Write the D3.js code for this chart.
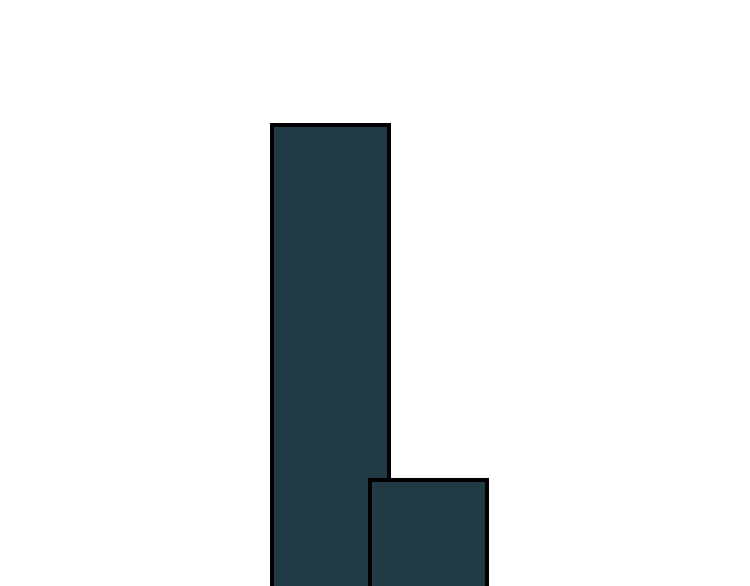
<!DOCTYPE html>
<html><head><meta charset="utf-8">
<script src="https://cdn.jsdelivr.net/npm/d3@7"></script>
<style>html,body{margin:0;padding:0;background:#fff;overflow:hidden}</style>
</head><body>
<svg id="c" width="750" height="586"></svg>
<script>
const categories = ["A", "B"];
const values = [100, 44.1];

const svg = d3.select("#c");
const x = d3.scaleLinear().domain([0, 1]).range([272, 370]);
const y = d3.scaleLinear().domain([0, 100]).range([760, 125]);
const barW = 117;

svg.selectAll("rect.bar").data(values).join("rect")
  .attr("class", "bar")
  .attr("x", (d, i) => x(i))
  .attr("y", d => y(d))
  .attr("width", barW)
  .attr("height", d => y(0) - y(d))
  .attr("fill", "#213b46")
  .attr("stroke", "#000")
  .attr("stroke-width", 4);
</script>
</body></html>
